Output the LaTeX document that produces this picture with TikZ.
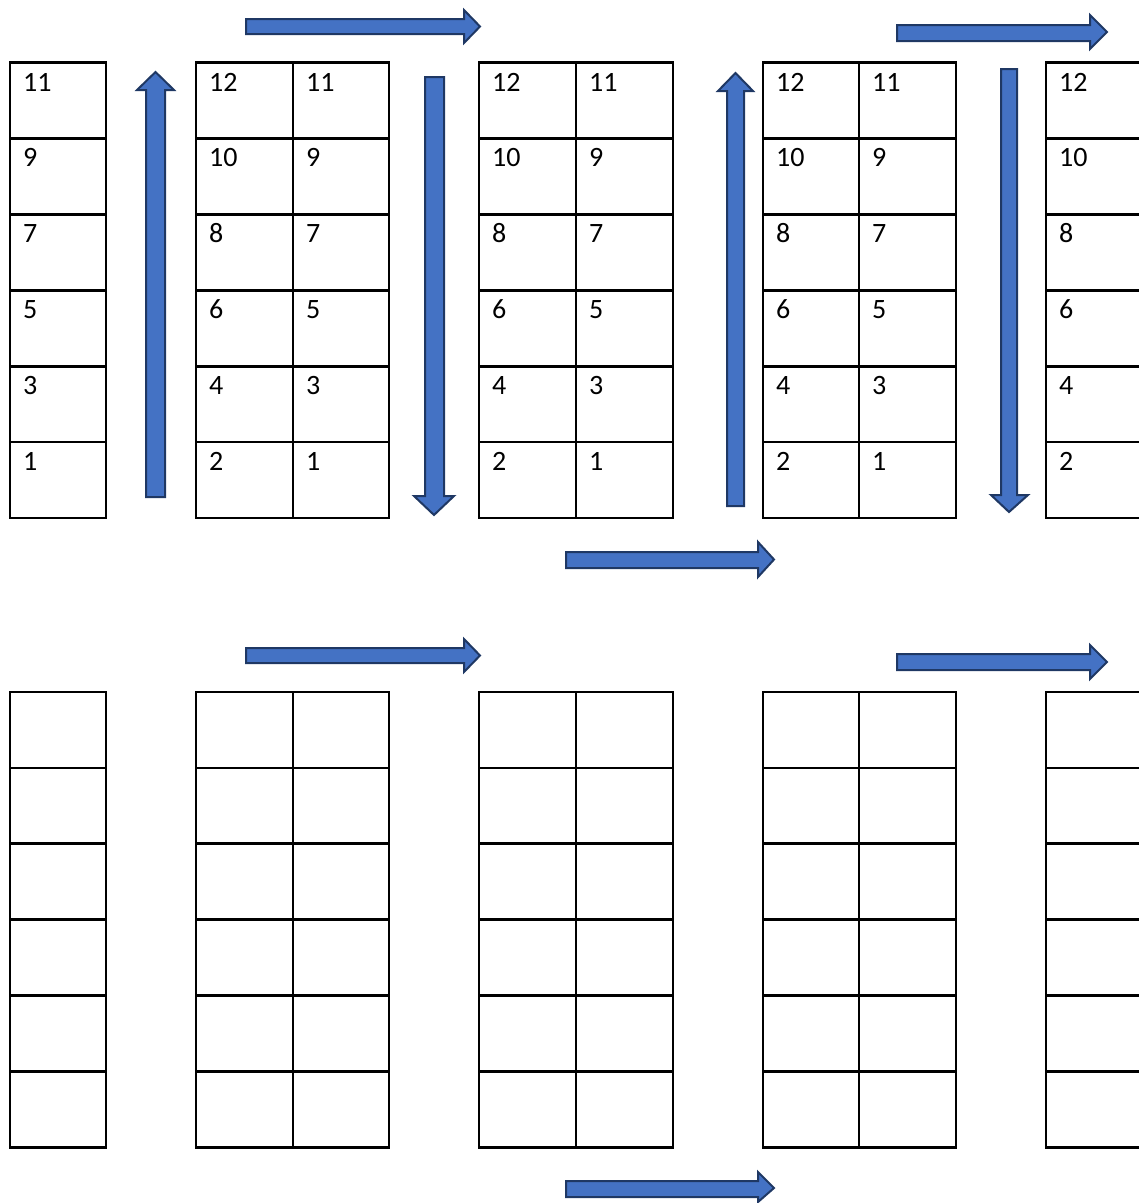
\documentclass[tikz,border=0pt]{standalone}
\usepackage{fontspec}
\setmainfont{Carlito}
\definecolor{arrowfill}{HTML}{4472C4}
\definecolor{arrowline}{HTML}{1F3864}
\begin{document}
\begin{tikzpicture}[x=1pt,y=-1pt,
  cell/.style={draw=black,line width=2.8pt},
  blockarrow/.style={fill=arrowfill,draw=arrowline,line width=2pt,line join=miter},
  num/.style={anchor=base west,inner sep=0pt,font=\fontsize{28}{30}\selectfont}]
\useasboundingbox (0,0) rectangle (1139,1203);
\clip (0,0) rectangle (1139,1203);
% grid cells (top and bottom blocks)
\foreach \top in {62.5,692}{
  \foreach \a/\b in {10/106,196/293,293/389,479/576,576/673,763/859,859/956,1046/1160}{
    \foreach \k in {0,...,5}{
      \draw[cell] (\a,\top+\k*75.9) rectangle (\b,\top+\k*75.9+75.9);
    }
  }
}
% numbers in top block
\foreach \x/\t [count=\c] in {10/1,196/0,293/1,479/0,576/1,763/0,859/1,1046/0}{
  \foreach \k in {0,...,5}{
    \pgfmathtruncatemacro\n{12-2*\k-\t}
    \node[num] (n\c-\k) at (\x+13,91+\k*75.9) {\n};
  }
}
% horizontal arrows
\draw[blockarrow] (246,19) -- (464,19) -- (464,10) -- (480,26.5) -- (464,43) -- (464,34) -- (246,34) -- cycle;
\draw[blockarrow] (897,25) -- (1090,25) -- (1090,15) -- (1107,32) -- (1090,49) -- (1090,41) -- (897,41) -- cycle;
\draw[blockarrow] (566,552) -- (758,552) -- (758,542) -- (774,559.5) -- (758,577) -- (758,568) -- (566,568) -- cycle;
\draw[blockarrow] (246,648) -- (464,648) -- (464,639) -- (480,655.5) -- (464,672) -- (464,663) -- (246,663) -- cycle;
\draw[blockarrow] (897,654) -- (1090,654) -- (1090,645) -- (1107,662) -- (1090,679) -- (1090,670) -- (897,670) -- cycle;
\draw[blockarrow] (566,1181) -- (758,1181) -- (758,1172) -- (774,1188) -- (758,1202) -- (758,1197) -- (566,1197) -- cycle;
% vertical arrows
\draw[blockarrow] (146,497) -- (146,90) -- (137,90) -- (155.5,72) -- (174,90) -- (165,90) -- (165,497) -- cycle;
\draw[blockarrow] (425,77) -- (444,77) -- (444,496) -- (454,496) -- (434,515) -- (414,496) -- (425,496) -- cycle;
\draw[blockarrow] (727,506) -- (727,91) -- (718,91) -- (735.5,73) -- (753,91) -- (744,91) -- (744,506) -- cycle;
\draw[blockarrow] (1001,69) -- (1017,69) -- (1017,495) -- (1028,495) -- (1009,512) -- (991,495) -- (1001,495) -- cycle;
\end{tikzpicture}
\end{document}
